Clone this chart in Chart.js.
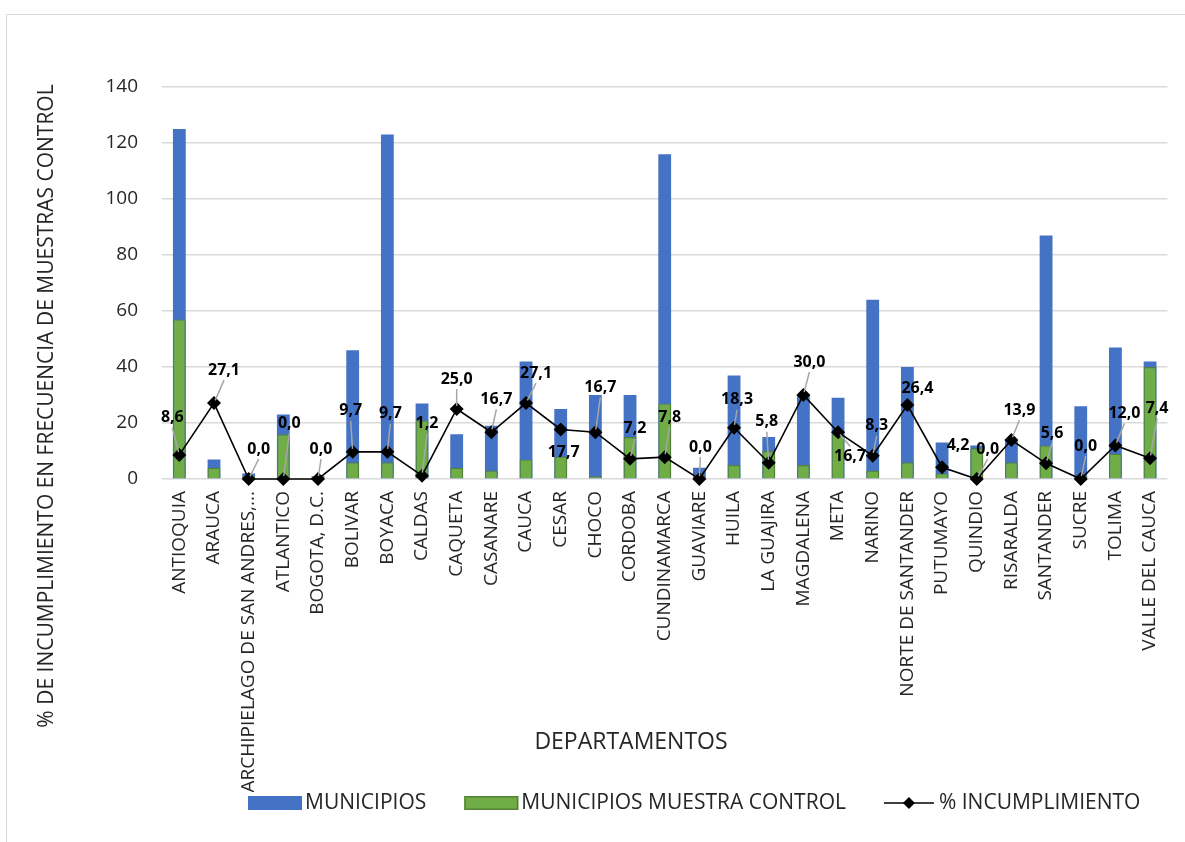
<!DOCTYPE html>
<html>
<head>
<meta charset="utf-8">
<script src="https://cdn.jsdelivr.net/npm/chart.js@4/dist/chart.umd.min.js"></script>
<style>
  html, body { margin: 0; padding: 0; background: #fff; }
  #frame { position: absolute; left: 6px; top: 14px; width: 1200px; height: 900px; border: 1px solid #d9d9d9; }
  #wrap { position: absolute; left: 0; top: 0; width: 1185px; height: 842px; }
</style>
</head>
<body>
<div id="frame"></div>
<div id="wrap"><canvas id="chart" width="1185" height="842"></canvas></div>
<script>
// Departments (category axis)
const departamentos = [
  'ANTIOQUIA', 'ARAUCA', 'ARCHIPIELAGO DE SAN ANDRES,...', 'ATLANTICO', 'BOGOTA, D.C.',
  'BOLIVAR', 'BOYACA', 'CALDAS', 'CAQUETA', 'CASANARE', 'CAUCA', 'CESAR', 'CHOCO',
  'CORDOBA', 'CUNDINAMARCA', 'GUAVIARE', 'HUILA', 'LA GUAJIRA', 'MAGDALENA', 'META',
  'NARINO', 'NORTE DE SANTANDER', 'PUTUMAYO', 'QUINDIO', 'RISARALDA', 'SANTANDER',
  'SUCRE', 'TOLIMA', 'VALLE DEL CAUCA'
];

// Number of municipalities per department
const municipios = [125, 7, 2, 23, 1, 46, 123, 27, 16, 19, 42, 25, 30, 30, 116, 4, 37, 15, 30, 29, 64, 40, 13, 12, 14, 87, 26, 47, 42];

// Municipalities included in the control sample
const muestraControl = [57, 4, 1, 16, 1, 6, 6, 21, 4, 3, 7, 8, 1, 15, 27, 1, 5, 10, 5, 16, 3, 6, 2, 11, 6, 12, 1, 9, 40];

// Percentage of non-compliance in control-sample frequency
const incumplimiento = [8.6, 27.1, 0.0, 0.0, 0.0, 9.7, 9.7, 1.2, 25.0, 16.7, 27.1, 17.7, 16.7, 7.2, 7.8, 0.0, 18.3, 5.8, 30.0, 16.7, 8.3, 26.4, 4.2, 0.0, 13.9, 5.6, 0.0, 12.0, 7.4];

// Value axis ticks
const yTicks = [0, 20, 40, 60, 80, 100, 120, 140];

// Placement of each percentage label relative to its marker (px) and whether a leader line is drawn
const labelOffsets = [
  [-7, -37], [10, -33], [10, -30], [6, -56], [3, -30], [-2, -41], [3, -38], [5, -52],
  [0, -30], [5, -33], [10, -30], [3, 23], [5, -45], [5, -30], [5, -40], [1, -32],
  [3, -28], [-2, -41], [6, -33], [12, 24], [4, -30], [10, -17], [16, -22], [11, -30],
  [8, -30], [6, -30], [5, -33], [9, -32], [7, -50]
];
const leaderLines = [
  true, true, true, true, true, true, true, true, true, true, true, false, true, true, true,
  true, true, true, true, true, true, false, false, true, true, true, true, true, true
];

const FONT = '"Open Sans", "Liberation Sans", sans-serif';
const TEXT = '#262626';
const BLUE = '#4472C4';
const GREEN = '#70AD47';
const GREEN_EDGE = '#548235';

Chart.defaults.font.family = FONT;
Chart.defaults.color = TEXT;

const fmt = v => v.toFixed(1).replace('.', ',');

// Percentage labels with grey leader lines
const valueLabels = {
  id: 'valueLabels',
  afterDatasetsDraw(chart) {
    const meta = chart.getDatasetMeta(2);
    const ctx = chart.ctx;
    ctx.save();
    ctx.font = 'bold 16px ' + FONT;
    ctx.textAlign = 'center';
    ctx.textBaseline = 'middle';
    meta.data.forEach((pt, i) => {
      const [dx, dy] = labelOffsets[i];
      const lx = pt.x + dx, ly = pt.y + dy;
      if (leaderLines[i]) {
        const sy = dy < 0 ? ly + 10 : ly - 10;
        const vx = pt.x - lx, vy = pt.y - sy;
        const len = Math.hypot(vx, vy);
        if (len > 6) {
          const k = (len - 3) / len;
          ctx.strokeStyle = '#a6a6a6';
          ctx.lineWidth = 1.5;
          ctx.beginPath();
          ctx.moveTo(lx, sy);
          ctx.lineTo(lx + vx * k, sy + vy * k);
          ctx.stroke();
        }
      }
      ctx.fillStyle = '#000';
      ctx.fillText(fmt(incumplimiento[i]), lx, ly);
    });
    ctx.restore();
  }
};

// Axis titles
const axisTitles = {
  id: 'axisTitles',
  afterDraw(chart) {
    const ctx = chart.ctx;
    ctx.save();
    ctx.fillStyle = TEXT;
    ctx.textAlign = 'center';
    ctx.textBaseline = 'middle';
    ctx.font = '23px ' + FONT;
    ctx.fillText('DEPARTAMENTOS', 631, 742);
    ctx.translate(47, 406);
    ctx.rotate(-Math.PI / 2);
    ctx.font = '21px ' + FONT;
    ctx.fillText('% DE INCUMPLIMIENTO EN FRECUENCIA DE MUESTRAS CONTROL', 0, 0);
    ctx.restore();
  }
};

// Single-row legend built from the chart's datasets
const legendRow = {
  id: 'legendRow',
  afterDraw(chart) {
    const ctx = chart.ctx;
    const cy = 803;
    let x = 248;
    ctx.save();
    ctx.font = '21px ' + FONT;
    ctx.textAlign = 'left';
    ctx.textBaseline = 'middle';
    chart.data.datasets.forEach(ds => {
      if (ds.type === 'line') {
        ctx.strokeStyle = ds.borderColor;
        ctx.lineWidth = 1.5;
        ctx.beginPath(); ctx.moveTo(x, cy); ctx.lineTo(x + 50, cy); ctx.stroke();
        ctx.fillStyle = ds.pointBackgroundColor;
        ctx.beginPath();
        ctx.moveTo(x + 25, cy - 6); ctx.lineTo(x + 31, cy); ctx.lineTo(x + 25, cy + 6); ctx.lineTo(x + 19, cy);
        ctx.closePath(); ctx.fill();
        x += 55;
      } else {
        ctx.fillStyle = ds.backgroundColor;
        ctx.fillRect(x, cy - 7, 54, 14);
        if (ds.borderWidth) {
          ctx.strokeStyle = ds.borderColor;
          ctx.lineWidth = 1.5;
          ctx.strokeRect(x + 0.75, cy - 6.25, 52.5, 12.5);
        }
        x += 57;
      }
      ctx.fillStyle = TEXT;
      ctx.fillText(ds.label, x, cy);
      x += ctx.measureText(ds.label).width + 38;
    });
    ctx.restore();
  }
};

new Chart(document.getElementById('chart'), {
  data: {
    labels: departamentos,
    datasets: [
      {
        type: 'bar',
        label: 'MUNICIPIOS',
        data: municipios,
        backgroundColor: BLUE,
        borderWidth: 0,
        grouped: false,
        order: 2,
        barPercentage: 0.37,
        categoryPercentage: 1
      },
      {
        type: 'bar',
        label: 'MUNICIPIOS MUESTRA CONTROL',
        data: muestraControl,
        backgroundColor: GREEN,
        borderColor: GREEN_EDGE,
        borderWidth: 1.2,
        grouped: false,
        order: 1,
        barPercentage: 0.37,
        categoryPercentage: 1
      },
      {
        type: 'line',
        label: '% INCUMPLIMIENTO',
        data: incumplimiento,
        borderColor: '#000',
        borderWidth: 1.6,
        tension: 0,
        pointStyle: 'rectRot',
        pointRadius: 7,
        pointBackgroundColor: '#000',
        pointBorderColor: '#000',
        pointBorderWidth: 0,
        clip: false,
        order: 0
      }
    ]
  },
  options: {
    responsive: false,
    animation: false,
    events: [],
    layout: { padding: { top: 87, right: 4, bottom: 50, left: 0 } },
    scales: {
      x: {
        grid: { display: false, drawTicks: false },
        border: { display: false },
        ticks: {
          autoSkip: false,
          minRotation: 90,
          maxRotation: 90,
          padding: 12,
          color: TEXT,
          font: { size: 19 }
        },
        afterFit(scale) { scale.height = 313; }
      },
      y: {
        min: 0,
        max: 140,
        afterBuildTicks(scale) { scale.ticks = yTicks.map(v => ({ value: v })); },
        grid: { color: '#d9d9d9', lineWidth: 1.6, drawTicks: false },
        border: { display: false },
        ticks: { padding: 24, color: TEXT, font: { size: 19 } },
        afterFit(scale) { scale.width = 162; }
      }
    },
    plugins: {
      tooltip: { enabled: false },
      legend: { display: false }
    }
  },
  plugins: [valueLabels, axisTitles, legendRow]
});
</script>
</body>
</html>
